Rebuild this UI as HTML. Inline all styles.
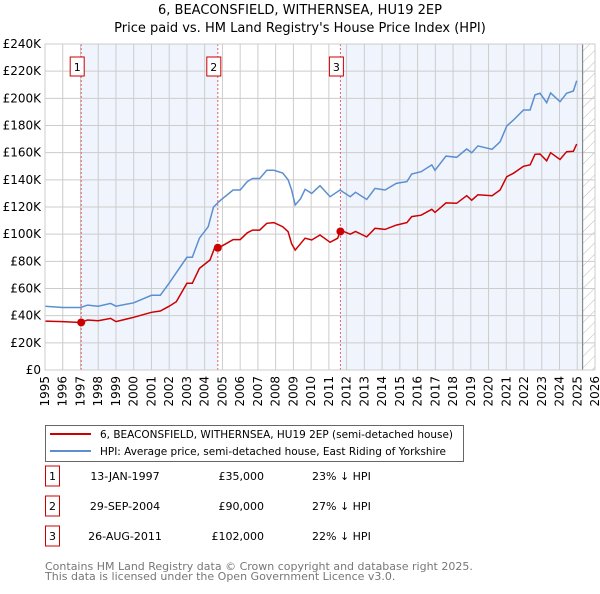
<!DOCTYPE html>
<html><head><meta charset="utf-8"><style>
body{margin:0;background:#fff;font-family:"DejaVu Sans","Liberation Sans",sans-serif;}
svg text{font-family:"DejaVu Sans","Liberation Sans",sans-serif;}
</style></head><body>
<svg id="c" width="600" height="590" xmlns="http://www.w3.org/2000/svg">
<defs><pattern id="h" width="8" height="8" patternUnits="userSpaceOnUse" patternTransform="rotate(45)"><line x1="0" y1="0" x2="0" y2="8" stroke="#bbb" stroke-width="1"/></pattern></defs>
<text x="300" y="14" text-anchor="middle" font-size="13">6, BEACONSFIELD, WITHERNSEA, HU19 2EP</text>
<text x="300" y="32" text-anchor="middle" font-size="13">Price paid vs. HM Land Registry's House Price Index (HPI)</text>
<g id="plot"></g>
<g>
<rect x="45.5" y="425.5" width="418" height="36" fill="#fff" stroke="#666"/>
<line x1="50" y1="434" x2="91" y2="434" stroke="#cc0000" stroke-width="2"/>
<text x="100" y="438" font-size="11" textLength="353" lengthAdjust="spacingAndGlyphs">6, BEACONSFIELD, WITHERNSEA, HU19 2EP (semi-detached house)</text>
<line x1="50" y1="451" x2="91" y2="451" stroke="#5b8fd0" stroke-width="2"/>
<text x="100" y="455" font-size="11" textLength="346" lengthAdjust="spacingAndGlyphs">HPI: Average price, semi-detached house, East Riding of Yorkshire</text>
</g>
<g id="tbl" font-size="11"></g>
<text x="45" y="570" font-size="11" fill="#777">Contains HM Land Registry data © Crown copyright and database right 2025.</text>
<text x="45" y="580" font-size="11" fill="#777">This data is licensed under the Open Government Licence v3.0.</text>
</svg>
<script>
const hpiYears=[1995,1996,1997,1997.4,1998,1998.7,1999,2000,2001,2001.5,2002,2003,2003.3,2003.7,2004.2,2004.5,2004.9,2005.6,2006,2006.4,2006.7,2007.1,2007.5,2007.9,2008.4,2008.7,2008.9,2009.1,2009.4,2009.66,2010.03,2010.5,2011.07,2011.63,2012.2,2012.5,2013.13,2013.6,2014.17,2014.8,2015.4,2015.67,2016.2,2016.8,2016.98,2017.6,2018.2,2018.77,2019.05,2019.4,2020.2,2020.65,2021.03,2021.4,2021.97,2022.34,2022.62,2022.9,2023.28,2023.5,2024.03,2024.4,2024.78,2024.97];
const hpiValues=[47,46,46,47.8,47,49,47,49.5,55,55,64,83,83,97,105.5,120,125,132.5,132.5,138.7,141,141,147,147,145,140,132.5,121.5,126,133,130,135.7,127.6,132.5,127.6,130.8,125.6,133.7,132.5,137.4,138.7,144.3,146,151,147,157.5,156.6,162.7,160,165,162.5,168,179.6,184,191.4,191.4,202.5,203.7,196.8,204,197.5,203.7,205.4,213];
const priceYears=[1995,1996,1997,1997.4,1998,1998.7,1999,2000,2001,2001.5,2002,2002.4,2003,2003.3,2003.7,2004.3,2004.6,2004.74,2005.2,2005.6,2006,2006.4,2006.7,2007.1,2007.5,2007.9,2008.4,2008.7,2008.9,2009.1,2009.4,2009.66,2010.03,2010.5,2011.07,2011.5,2011.65,2012.2,2012.5,2013.13,2013.6,2014.17,2014.8,2015.4,2015.67,2016.2,2016.8,2016.98,2017.6,2018.2,2018.77,2019.05,2019.4,2020.2,2020.65,2021.03,2021.4,2021.97,2022.34,2022.62,2022.9,2023.28,2023.5,2024.03,2024.4,2024.78,2024.97];
const priceValues=[36,35.6,35,36.8,36.3,38,35.6,38.8,42.5,43.4,47,50.3,63.8,63.8,74.8,81,91.3,89.6,93,96,96,101,103,103,108,108.5,105.5,101.8,93,88.3,93,97,95.7,99.4,94,97,103,100,102,98,104.3,103.5,106.7,108.5,112.9,114,118.3,116,123,122.7,128.3,125,129,128.3,132.5,142.3,144.8,150,151,158.8,159,154,160,155,160.7,161,166.4];
const saleYears=[1997.04,2004.74,2011.65];
const saleValues=[35,90,102];
const saleLabels=["1","2","3"];
const saleDates=["13-JAN-1997","29-SEP-2004","26-AUG-2011"];
const salePrices=["£35,000","£90,000","£102,000"];
const saleDiffs=["23% ↓ HPI","27% ↓ HPI","22% ↓ HPI"];
const yTicks=[0,20,40,60,80,100,120,140,160,180,200,220,240];
const xTicks=[1995,1996,1997,1998,1999,2000,2001,2002,2003,2004,2005,2006,2007,2008,2009,2010,2011,2012,2013,2014,2015,2016,2017,2018,2019,2020,2021,2022,2023,2024,2025,2026];
const dataEnd=2025.3;

const X0=45,X1=595,Y0=370,Y1=44;
const xs=y=>X0+(y-1995)/(2026-1995)*(X1-X0);
const ys=v=>Y0-v/240*(Y0-Y1);
const NS="http://www.w3.org/2000/svg";
const plot=document.getElementById('plot');
function mk(tag,attrs,parent){const e=document.createElementNS(NS,tag);for(const k in attrs)e.setAttribute(k,attrs[k]);(parent||plot).appendChild(e);return e;}

let r=mk('rect',{x:X0,y:Y1,width:X1-X0,height:Y0-Y1,fill:'#fff'});


[[saleYears[0],saleYears[1]],[saleYears[2],dataEnd]].forEach(([a,b])=>{
 const s=mk('rect',{x:xs(a),y:Y1,width:xs(b)-xs(a),height:Y0-Y1,fill:'#f0f4fd'});
 
 
});
const hz=mk('rect',{x:xs(dataEnd),y:Y1,width:X1-xs(dataEnd),height:Y0-Y1,fill:'url(#h)'});


yTicks.forEach(v=>{
 const l=mk('line',{x1:X0,x2:X1,y1:ys(v),y2:ys(v),stroke:'#ccc','stroke-width':1});
 
 
 const t=mk('text',{x:X0-4,y:ys(v)+4,'text-anchor':'end','font-size':12});
 t.textContent=v===0?'£0':'£'+v+'K';
 
 
});
xTicks.forEach(y=>{
 const l=mk('line',{x1:xs(y),x2:xs(y),y1:Y1,y2:Y0,stroke:'#ccc','stroke-width':1});
 
 
 const t=mk('text',{x:0,y:0,'text-anchor':'end','font-size':12,transform:`translate(${xs(y)+4},${Y0+6}) rotate(-90)`});
 t.textContent=y;
 
 
});
const el=mk('line',{x1:xs(dataEnd),x2:xs(dataEnd),y1:Y1,y2:Y0,stroke:'#888','stroke-width':1.2});


saleYears.forEach((y,i)=>{
 const l=mk('line',{x1:xs(y),x2:xs(y),y1:Y1,y2:Y0,stroke:'#e06060','stroke-width':1,'stroke-dasharray':'2,2'});
 
 
 const b=mk('rect',{x:xs(y)-11,y:57,width:14,height:19,fill:'#fff',stroke:'#cc0000'});
 
 
 const t=mk('text',{x:xs(y)-4,y:71,'text-anchor':'middle','font-size':11});
 t.textContent=saleLabels[i];
 
 
});
const hp=mk('path',{d:hpiYears.map((y,i)=>(i?'L':'M')+xs(y).toFixed(1)+','+ys(hpiValues[i]).toFixed(1)).join(''),fill:'none',stroke:'#5b8fd0','stroke-width':1.5});


const pp=mk('path',{d:priceYears.map((y,i)=>(i?'L':'M')+xs(y).toFixed(1)+','+ys(priceValues[i]).toFixed(1)).join(''),fill:'none',stroke:'#cc0000','stroke-width':1.5});


saleYears.forEach((y,i)=>{
 const c=mk('circle',{cx:xs(y),cy:ys(saleValues[i]),r:4,fill:'#cc0000'});
 
 
});
const ax=mk('rect',{x:X0,y:Y1,width:X1-X0,height:Y0-Y1,fill:'none',stroke:'#ccc'});


const tbl=document.getElementById('tbl');
saleYears.forEach((y,i)=>{
 const cy=483+i*30;
 const b=mk('rect',{x:45.5,y:cy-17,width:14,height:20,fill:'#fff',stroke:'#cc0000'},tbl);
 
 
 const n=mk('text',{x:52.5,y:cy-3,'text-anchor':'middle'},tbl);n.textContent=saleLabels[i];
 
 
 const d=mk('text',{x:125,y:cy-3,'text-anchor':'middle'},tbl);d.textContent=saleDates[i];
 
 
 const p=mk('text',{x:264,y:cy-3,'text-anchor':'end'},tbl);p.textContent=salePrices[i];
 
 
 const h=mk('text',{x:312,y:cy-3},tbl);h.textContent=saleDiffs[i];
 
 
});
</script>
</body></html>
